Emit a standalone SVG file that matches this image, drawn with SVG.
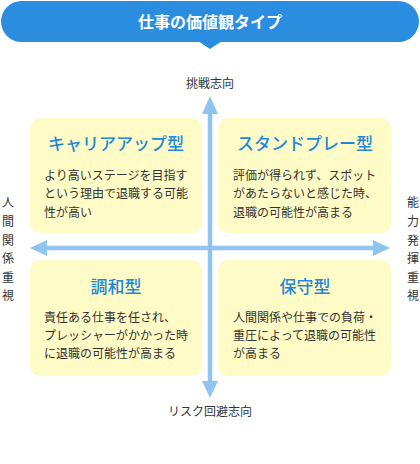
<svg xmlns="http://www.w3.org/2000/svg" width="420" height="464" viewBox="0 0 420 464">
<style>
.t{font-family:"Noto Sans CJK JP","Noto Sans",sans-serif;}
.head{fill:#2a8de0;}
.htxt{fill:#ffffff;font-size:16px;font-weight:bold;text-anchor:middle;}
.box{fill:#fffbc6;}
.ttl{fill:#1f88da;font-size:17px;font-weight:500;text-anchor:middle;}
.body{fill:#333333;font-size:12px;}
.lab{fill:#333333;font-size:12px;text-anchor:middle;}
.axis{stroke:#8fc4ee;stroke-width:4.5;fill:none;}
.ah{fill:#8fc4ee;}
</style>
<rect width="420" height="464" fill="#ffffff"/>
<g id="header">
<rect class="head" x="1" y="1" width="418" height="41" rx="20.5"/>
<polygon class="head" points="198,41 222,41 210,49"/>
<text class="t htxt" x="210" y="28">仕事の価値観タイプ</text>
</g>
<g id="connectors">
<line class="axis" x1="210" y1="112" x2="210" y2="384"/>
<polygon class="ah" points="210,96 202,114 218,114"/>
<polygon class="ah" points="210,398 202,381 218,381"/>
<line class="axis" x1="45" y1="248" x2="375" y2="248"/>
<polygon class="ah" points="30,248 47,240 47,256"/>
<polygon class="ah" points="390,248 373,240 373,256"/>
</g>
<g id="label-top"><text class="t lab" x="210" y="88">挑戦志向</text></g>
<g id="label-bottom"><text class="t lab" x="210" y="416">リスク回避志向</text></g>
<g id="label-left">
<text class="t lab" x="8" y="207">人</text>
<text class="t lab" x="8" y="226">間</text>
<text class="t lab" x="8" y="245">関</text>
<text class="t lab" x="8" y="263">係</text>
<text class="t lab" x="8" y="282">重</text>
<text class="t lab" x="8" y="300">視</text>
</g>
<g id="label-right">
<text class="t lab" x="413" y="207">能</text>
<text class="t lab" x="413" y="226">力</text>
<text class="t lab" x="413" y="245">発</text>
<text class="t lab" x="413" y="263">揮</text>
<text class="t lab" x="413" y="282">重</text>
<text class="t lab" x="413" y="300">視</text>
</g>
<g id="career-up">
<rect class="box" x="30" y="118" width="172" height="115" rx="10"/>
<text class="t ttl" x="116" y="150">キャリアアップ型</text>
<text class="t body" x="44" y="180">より高いステージを目指す</text>
<text class="t body" x="44" y="198">という理由で退職する可能</text>
<text class="t body" x="44" y="217">性が高い</text>
</g>
<g id="standplay">
<rect class="box" x="218" y="118" width="173" height="115" rx="10"/>
<text class="t ttl" x="305" y="150">スタンドプレー型</text>
<text class="t body" x="233" y="180">評価が得られず、スポット</text>
<text class="t body" x="233" y="198">があたらないと感じた時、</text>
<text class="t body" x="233" y="217">退職の可能性が高まる</text>
</g>
<g id="harmony">
<rect class="box" x="30" y="260" width="172" height="116" rx="10"/>
<text class="t ttl" x="116" y="293">調和型</text>
<text class="t body" x="44" y="322">責任ある仕事を任され、</text>
<text class="t body" x="44" y="340">プレッシャーがかかった時</text>
<text class="t body" x="44" y="358">に退職の可能性が高まる</text>
</g>
<g id="conservative">
<rect class="box" x="218" y="260" width="173" height="116" rx="10"/>
<text class="t ttl" x="305" y="293">保守型</text>
<text class="t body" x="233" y="322">人間関係や仕事での負荷・</text>
<text class="t body" x="233" y="340">重圧によって退職の可能性</text>
<text class="t body" x="233" y="358">が高まる</text>
</g>
</svg>
